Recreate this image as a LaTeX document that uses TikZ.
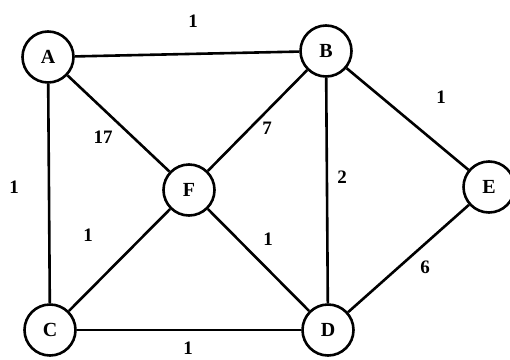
\documentclass[tikz,border=0pt]{standalone}
\usepackage{fontspec}
\setmainfont{Liberation Serif}
\begin{document}
\begin{tikzpicture}[x=1pt,y=-1pt,
  vert/.style={circle,draw,line width=2.6pt,minimum size=51pt,inner sep=0pt,font=\fontsize{20}{20}\selectfont\bfseries},
  edge/.style={line width=2.6pt},
  wt/.style={font=\fontsize{19}{19}\selectfont\bfseries,inner sep=0pt}]
\useasboundingbox (0,0) rectangle (510,359);
\node[vert] (A) at (48,57) {A};
\node[vert] (B) at (326,51) {B};
\node[vert] (C) at (50,330) {C};
\node[vert] (D) at (328,330) {D};
\node[vert] (E) at (489,187) {E};
\node[vert] (F) at (189,190) {F};
\draw[edge] (A) -- (B);
\draw[edge] (A) -- (C);
\draw[edge] (A) -- (F);
\draw[edge] (C) -- (F);
\draw[edge] (C) -- (D);
\draw[edge] (F) -- (B);
\draw[edge] (F) -- (D);
\draw[edge] (B) -- (D);
\draw[edge] (B) -- (E);
\draw[edge] (E) -- (D);
\node[wt] (wab) at (193,21) {1};
\node[wt] (wbe) at (441,97) {1};
\node[wt] (waf) at (103,137) {17};
\node[wt] (wfb) at (267,128) {7};
\node[wt] (wac) at (14,187) {1};
\node[wt] (wbd) at (342,177) {2};
\node[wt] (wcf) at (88,235) {1};
\node[wt] (wfd) at (268,239) {1};
\node[wt] (wed) at (425,267) {6};
\node[wt] (wcd) at (188,348) {1};
\end{tikzpicture}
\end{document}
